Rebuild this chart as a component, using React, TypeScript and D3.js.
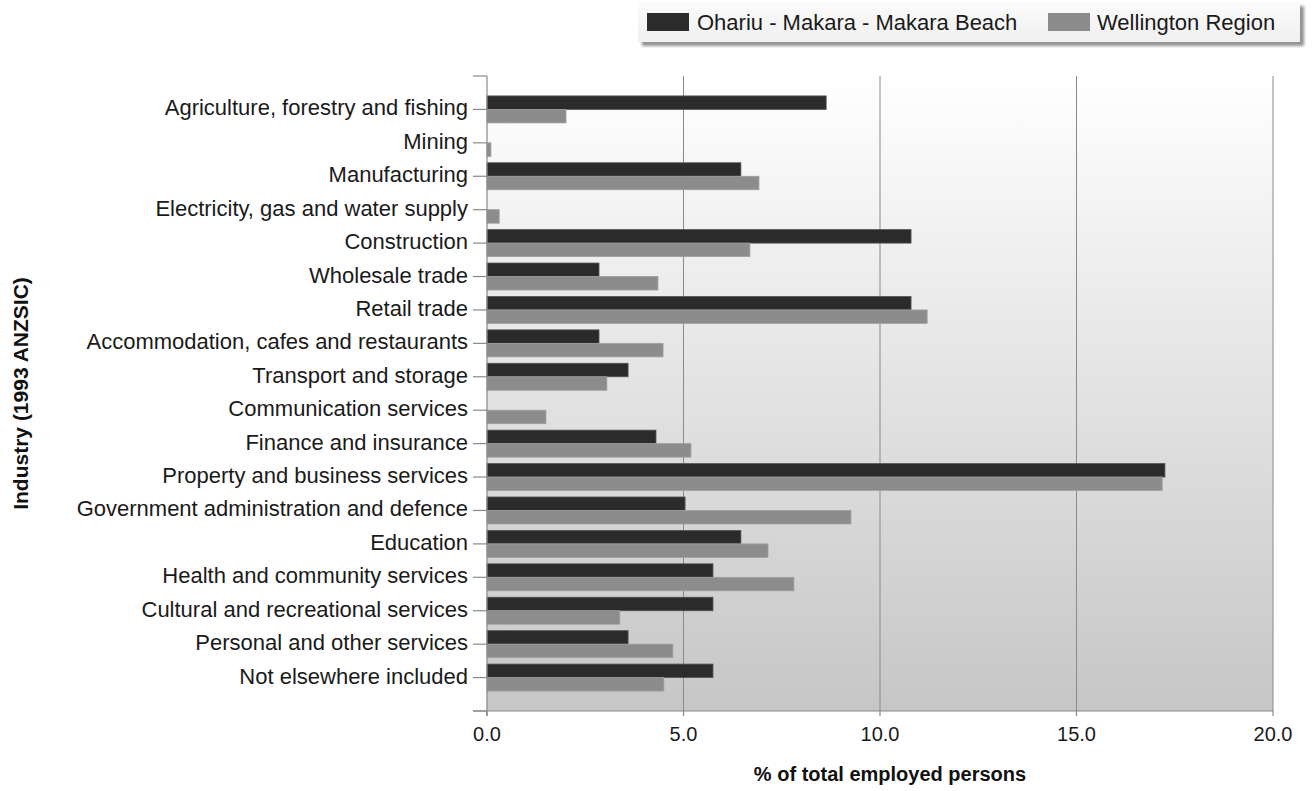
import React from "react";
import * as d3 from "d3";

const categories = [
  "Agriculture, forestry and fishing",
  "Mining",
  "Manufacturing",
  "Electricity, gas and water supply",
  "Construction",
  "Wholesale trade",
  "Retail trade",
  "Accommodation, cafes and restaurants",
  "Transport and storage",
  "Communication services",
  "Finance and insurance",
  "Property and business services",
  "Government administration and defence",
  "Education",
  "Health and community services",
  "Cultural and recreational services",
  "Personal and other services",
  "Not elsewhere included",
];
const ohariu = [8.63, 0, 6.46, 0, 10.79, 2.85, 10.79, 2.85, 3.59, 0, 4.3, 17.25, 5.04, 6.46, 5.75, 5.75, 3.59, 5.75];
const wellington = [2.01, 0.1, 6.92, 0.31, 6.69, 4.35, 11.2, 4.48, 3.05, 1.5, 5.19, 17.18, 9.26, 7.15, 7.81, 3.38, 4.73, 4.5];
const xTicks = [0, 5, 10, 15, 20];
const seriesNames = ["Ohariu - Makara - Makara Beach", "Wellington Region"];
const seriesColors = ["#2b2b2b", "#8c8c8c"];

export default function App() {
  const W = 1313, H = 791;
  const left = 487, right = 1273, top = 76, bottom = 711;
  const x = d3.scaleLinear().domain([0, 20]).range([left, right]);
  const y = d3.scaleLinear().domain([0, categories.length + 1]).range([top, bottom]);
  const barH = 13.5;
  const font = "'Liberation Sans', Arial, sans-serif";
  const yTicks = d3.range(0, categories.length + 2);

  return (
    <svg width={W} height={H} style={{ position: "absolute", left: 0, top: 0 }}>
      <defs>
        <linearGradient id="bg" x1="0" y1="0" x2="0" y2="1">
          <stop offset="0" stopColor="#ffffff" />
          <stop offset="1" stopColor="#c6c6c6" />
        </linearGradient>
        <linearGradient id="lg" x1="0" y1="0" x2="0" y2="1">
          <stop offset="0" stopColor="#fbfbfb" />
          <stop offset="1" stopColor="#f0f0f0" />
        </linearGradient>
        <filter id="sh" x="-5%" y="-30%" width="110%" height="170%">
          <feGaussianBlur stdDeviation="1.5" />
        </filter>
      </defs>
      <rect x={0} y={0} width={W} height={H} fill="#fff" />
      {/* plot background */}
      <rect x={left} y={top} width={right - left} height={bottom - top} fill="url(#bg)" />
      {/* grid */}
      {xTicks.slice(1).map((t) => (
        <line key={t} x1={x(t)} x2={x(t)} y1={top} y2={bottom} stroke="#8a8a8a" strokeWidth={1} />
      ))}
      {/* bars */}
      {categories.map((c, i) => {
        const cy = y(i + 1);
        return (
          <g key={c}>
            {ohariu[i] > 0 && (
              <rect x={x(0)} y={cy - barH} width={x(ohariu[i]) - x(0)} height={barH}
                fill={seriesColors[0]} stroke="#555" strokeWidth={0.8} />
            )}
            {wellington[i] > 0 && (
              <rect x={x(0)} y={cy} width={x(wellington[i]) - x(0)} height={barH}
                fill={seriesColors[1]} stroke="#a0a0a0" strokeWidth={0.8} />
            )}
          </g>
        );
      })}
      {/* axes */}
      <line x1={left} x2={left} y1={top} y2={bottom + 5} stroke="#888" strokeWidth={1.2} />
      <line x1={left - 14} x2={right} y1={bottom} y2={bottom} stroke="#888" strokeWidth={1.2} />
      {yTicks.map((t) => (
        <line key={t} x1={left - 14} x2={left} y1={y(t)} y2={y(t)} stroke="#888" strokeWidth={1.2} />
      ))}
      {xTicks.map((t) => (
        <g key={t}>
          <line x1={x(t)} x2={x(t)} y1={bottom} y2={bottom + 5} stroke="#888" strokeWidth={1.2} />
          <text x={x(t)} y={bottom + 30} textAnchor="middle" fontFamily={font} fontSize={20} fill="#1a1a1a">
            {d3.format(".1f")(t)}
          </text>
        </g>
      ))}
      {categories.map((c, i) => (
        <text key={c} x={left - 19} y={y(i + 1) + 6} textAnchor="end" fontFamily={font} fontSize={22} fill="#1a1a1a">
          {c}
        </text>
      ))}
      <text x={890} y={781} textAnchor="middle" fontFamily={font} fontSize={20} fontWeight="bold" fill="#111">
        % of total employed persons
      </text>
      <text transform={`translate(28, ${(top + bottom) / 2}) rotate(-90)`} textAnchor="middle" fontFamily={font}
        fontSize={21} fontWeight="bold" fill="#111">
        Industry (1993 ANZSIC)
      </text>
      {/* legend */}
      <rect x={642} y={6} width={662} height={40} fill="#777" opacity={0.8} filter="url(#sh)" />
      <rect x={638} y={2} width={662} height={40} fill="url(#lg)" />
      <rect x={647} y={13} width={42} height={18} fill={seriesColors[0]} />
      <text x={697} y={30} fontFamily={font} fontSize={22} fill="#1a1a1a">{seriesNames[0]}</text>
      <rect x={1048} y={13} width={42} height={18} fill={seriesColors[1]} />
      <text x={1097} y={30} fontFamily={font} fontSize={22} fill="#1a1a1a">{seriesNames[1]}</text>
    </svg>
  );
}
